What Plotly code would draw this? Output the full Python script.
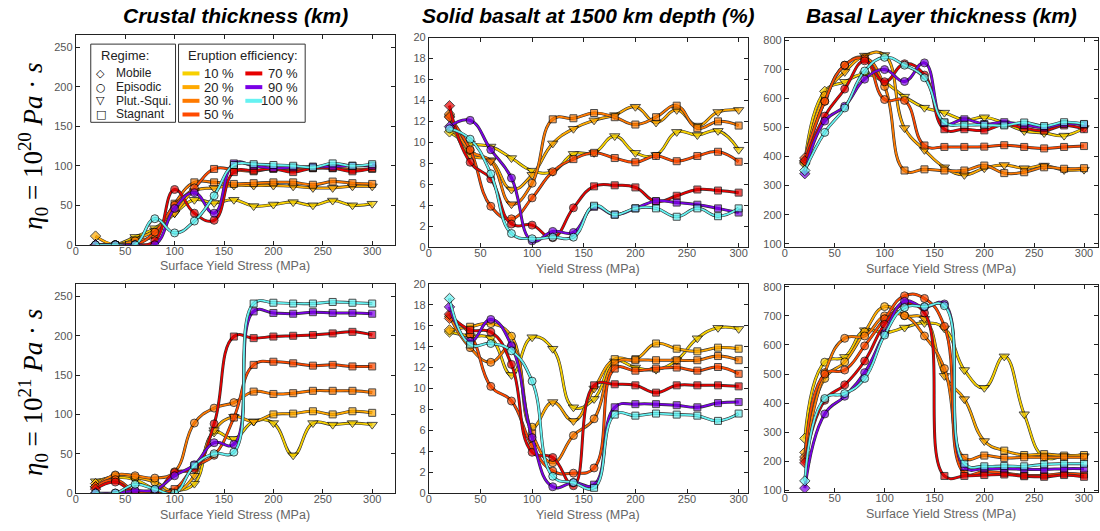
import plotly.graph_objects as go

W, H = 1100, 531

# ---------------- data ----------------
yield_stress = [20, 40, 60, 80, 100, 120, 140, 160, 180, 200, 220, 240, 260, 280, 300]
efficiency_labels = ["10 %", "20 %", "30 %", "50 %", "70 %", "90 %", "100 %"]
series_colors = ["#F7D000", "#FFAA00", "#FF7A00", "#FF4A00", "#E60000", "#7A00E6", "#66F2F2"]
regime_names = ["Mobile", "Episodic", "Plut.-Squi.", "Stagnant"]
x_ticks = [0, 50, 100, 150, 200, 250, 300]

# Crustal thickness (km), eta0 = 1e20
crust20_e10 = [0, 0, 10, 21, 40, 57, 53, 57, 49, 51, 54, 50, 56, 50, 52]
crust20_e20 = [11, 0, 7, 18, 40, 68, 72, 75, 75, 75, 74, 72, 72, 74, 74]
crust20_e30 = [0, 0, 5, 12, 52, 79, 79, 77, 78, 79, 79, 76, 80, 78, 77]
crust20_e50 = [0, 0, 0, 16, 50, 72, 96, 95, 93, 97, 96, 97, 97, 95, 96]
crust20_e70 = [0, 0, 0, 5, 70, 40, 31, 92, 94, 96, 92, 97, 97, 93, 97]
crust20_e90 = [0, 0, 0, 0, 46, 66, 40, 103, 100, 97, 98, 99, 99, 100, 100]
crust20_e100 = [0, 0, 0, 33, 15, 30, 62, 101, 102, 101, 100, 98, 103, 100, 102]
crust20_regimes = ["MEPPPPPPPPPPPPP", "MEPPPPPPPPPPPPP", "MEEESSSSSSSSSSS", "MEEEEESSSSSSSSS",
                   "MEEEEEESSSSSSSS", "MEEEEEESSSSSSSS", "EEEEEEESSSSSSSS"]

# Solid basalt at 1500 km depth (%), eta0 = 1e20
basalt20_e10 = [11.0, 9.9, 9.6, 8.5, 7.3, 7.2, 8.9, 9.0, 10.6, 9.0, 8.8, 11.0, 10.7, 11.1, 9.3]
basalt20_e20 = [12.5, 8.8, 8.3, 5.5, 6.9, 9.9, 11.3, 12.1, 12.6, 13.4, 11.9, 13.1, 11.6, 12.9, 13.1]
basalt20_e30 = [12.7, 9.2, 8.2, 4.1, 6.1, 12.2, 12.3, 12.8, 12.4, 11.7, 12.4, 13.5, 11.35, 12.0, 11.6]
basalt20_e50 = [12.4, 9.3, 3.9, 2.7, 4.7, 7.2, 8.4, 9.0, 8.5, 8.1, 8.7, 8.2, 8.7, 9.1, 8.15]
basalt20_e70 = [13.5, 8.1, 6.5, 2.2, 2.1, 0.9, 3.75, 5.8, 5.9, 5.7, 4.35, 4.9, 5.5, 5.4, 5.2]
basalt20_e90 = [11.5, 12.1, 9.3, 6.6, 0.6, 1.5, 1.4, 3.85, 3.1, 3.7, 4.4, 4.25, 4.05, 3.7, 3.3]
basalt20_e100 = [11.3, 10.3, 7.0, 1.3, 0.8, 0.95, 0.95, 3.95, 3.1, 3.7, 3.7, 2.9, 3.7, 2.95, 3.7]
basalt20_regimes = ["MPPPPPPPPPPPPPP", "MPPPPPPPPPPPPPP", "MEPPESSSSSSSSSS", "MEEEEESSSSSSSSS",
                    "MEEEEEESSSSSSSS", "MEEEEEESSSSSSSS", "EEEEEEESSSSSSSS"]

# Basal layer thickness (km), eta0 = 1e20
basal20_e10 = [380, 624, 657, 683, 655, 606, 568, 551, 526, 535, 515, 488, 481, 472, 498]
basal20_e20 = [375, 610, 691, 747, 749, 498, 423, 363, 337, 360, 371, 360, 369, 354, 355]
basal20_e30 = [385, 590, 714, 740, 641, 352, 356, 352, 352, 369, 343, 346, 363, 358, 360]
basal20_e50 = [395, 590, 714, 735, 596, 593, 438, 433, 433, 434, 439, 433, 428, 433, 436]
basal20_e70 = [385, 539, 632, 729, 657, 719, 680, 494, 494, 490, 510, 498, 489, 507, 494]
basal20_e90 = [341, 522, 573, 666, 699, 658, 722, 515, 528, 512, 518, 509, 500, 512, 510]
basal20_e100 = [352, 483, 567, 694, 741, 714, 671, 518, 509, 509, 507, 517, 505, 518, 512]
basal20_regimes = ["MMPPPPPPPPPPPPP", "MEPPPPPPPPPPPPP", "MEEEESSSSSSSSSS", "MEEEEESSSSSSSSS",
                   "MEEEEEESSSSSSSS", "MEEEEEESSSSSSSS", "MEEEEEESSSSSSSS"]

# Crustal thickness (km), eta0 = 1e21
crust21_e10 = [15, 20, 17, 5, 3, 12, 77, 69, 91, 89, 48, 89, 87, 89, 87]
crust21_e20 = [12, 22, 20, 14, 2, 22, 80, 97, 91, 100, 101, 104, 100, 104, 102]
crust21_e30 = [8, 23, 22, 19, 27, 89, 108, 115, 129, 126, 127, 130, 130, 130, 128]
crust21_e50 = [8, 17, 2, 0, 5, 33, 48, 96, 163, 167, 165, 162, 163, 161, 161]
crust21_e70 = [5, 14, 0, 0, 26, 31, 88, 199, 197, 199, 200, 201, 203, 205, 201]
crust21_e90 = [0, 0, 3, 4, 22, 36, 64, 62, 231, 229, 228, 230, 229, 229, 228]
crust21_e100 = [0, 0, 11, 5, 0, 35, 50, 52, 241, 242, 241, 241, 243, 242, 241]
crust21_regimes = ["PPPPPPPPPPPPPPP", "MEEEPPPPPSSSSSS", "MEEEEEEESSSSSSS", "MEEESEESSSSSSSS",
                   "MEEEEEESSSSSSSS", "MEEEEEEESSSSSSS", "EEEEESEESSSSSSS"]

# Solid basalt at 1500 km depth (%), eta0 = 1e21
basalt21_e10 = [15.4, 15.0, 14.8, 11.3, 14.9, 13.8, 8.2, 9.0, 12.6, 12.0, 11.8, 12.7, 14.8, 15.8, 15.7]
basalt21_e20 = [15.6, 15.9, 16.2, 15.0, 6.3, 8.7, 6.9, 10.0, 12.8, 12.8, 14.3, 13.8, 13.55, 13.9, 13.8]
basalt21_e30 = [16.9, 13.9, 12.5, 14.0, 5.7, 2.9, 5.5, 7.1, 12.4, 12.7, 12.7, 12.7, 12.7, 13.1, 12.7]
basalt21_e50 = [16.7, 15.2, 10.2, 8.8, 4.5, 2.1, 1.9, 2.4, 11.9, 11.7, 11.9, 12.0, 11.7, 12.05, 11.4]
basalt21_e70 = [17.1, 15.6, 15.4, 12.3, 3.9, 3.4, 0.7, 10.3, 10.4, 10.3, 9.6, 10.3, 10.3, 10.3, 10.2]
basalt21_e90 = [17.8, 14.5, 16.6, 14.1, 5.3, 0.6, 1.0, 0.8, 8.2, 8.5, 8.5, 8.4, 8.2, 8.6, 8.7]
basalt21_e100 = [18.6, 14.2, 14.3, 13.6, 10.7, 1.6, 1.0, 0.5, 7.5, 7.4, 7.6, 7.5, 7.4, 6.9, 7.6]
basalt21_regimes = ["MPPPPPPPPPPPPPP", "MSEEEPPPSSSSSSS", "MEEESEEESSSSSSS", "MSEEEEEESSSSSSS",
                    "MSEEEEESSSSSSSS", "MEEEEEESSSSSSSS", "MSEEEEESSSSSSSS"]

# Basal layer thickness (km), eta0 = 1e21
basal21_e10 = [279, 541, 559, 651, 642, 660, 676, 657, 514, 453, 561, 362, 215, 218, 218]
basal21_e20 = [231, 485, 542, 645, 732, 701, 690, 494, 414, 270, 237, 222, 225, 220, 222]
basal21_e30 = [215, 505, 623, 631, 700, 701, 631, 519, 212, 220, 212, 214, 214, 214, 214]
basal21_e50 = [205, 500, 514, 597, 690, 769, 760, 664, 160, 165, 160, 152, 152, 158, 155]
basal21_e70 = [195, 410, 463, 545, 671, 740, 710, 150, 150, 153, 155, 149, 147, 153, 147]
basal21_e90 = [108, 363, 424, 505, 640, 750, 730, 741, 181, 175, 175, 173, 172, 175, 175]
basal21_e100 = [133, 416, 433, 485, 634, 729, 732, 735, 192, 183, 184, 183, 190, 192, 192]
basal21_regimes = ["MEPPPPPPPPPPPPP", "MEEEEEPPPPSSSSS", "MEEEEEEESSSSSSS", "MEEEEEEESSSSSSS",
                   "MEEEEEESSSSSSSS", "MEEEEEEESSSSSSS", "MEEEEEEESSSSSSS"]

column_titles = ["Crustal thickness (km)", "Solid basalt at 1500 km depth (%)", "Basal Layer thickness (km)"]
row_labels = ["<i>η</i><sub>0</sub> = 10<sup>20</sup> <i>Pa</i> · <i>s</i>",
              "<i>η</i><sub>0</sub> = 10<sup>21</sup> <i>Pa</i> · <i>s</i>"]

# ---------------- layout helpers ----------------
def px(x):
    return x / W

def py(y):
    return 1 - y / H

symbol_map = {"M": "diamond", "E": "circle", "P": "triangle-down", "S": "square"}
size_map = {"M": 8, "E": 8, "P": 9, "S": 7}

panels = [
    dict(series=[crust20_e10, crust20_e20, crust20_e30, crust20_e50, crust20_e70, crust20_e90, crust20_e100],
         regs=crust20_regimes, xd=(73, 393), yd=(29.3, 244.3), xr=[0, 323], yr=[0, 266], dt=50,
         xt="Surface Yield Stress (MPa)"),
    dict(series=[basalt20_e10, basalt20_e20, basalt20_e30, basalt20_e50, basalt20_e70, basalt20_e90, basalt20_e100],
         regs=basalt20_regimes, xd=(427, 747), yd=(32.3, 246.7), xr=[0, 309], yr=[0, 20], dt=2,
         xt="Yield Stress (MPa)"),
    dict(series=[basal20_e10, basal20_e20, basal20_e30, basal20_e50, basal20_e70, basal20_e90, basal20_e100],
         regs=basal20_regimes, xd=(784, 1098), yd=(32.3, 246.7), xr=[0, 314], yr=[88.6, 809], dt=100,
         xt="Surface Yield Stress (MPa)"),
    dict(series=[crust21_e10, crust21_e20, crust21_e30, crust21_e50, crust21_e70, crust21_e90, crust21_e100],
         regs=crust21_regimes, xd=(73, 393), yd=(284.3, 498.3), xr=[0, 323], yr=[0, 266], dt=50,
         xt="Surface Yield Stress (MPa)"),
    dict(series=[basalt21_e10, basalt21_e20, basalt21_e30, basalt21_e50, basalt21_e70, basalt21_e90, basalt21_e100],
         regs=basalt21_regimes, xd=(427, 747), yd=(284.3, 498.3), xr=[0, 309], yr=[0, 20], dt=2,
         xt="Yield Stress (MPa)"),
    dict(series=[basal21_e10, basal21_e20, basal21_e30, basal21_e50, basal21_e70, basal21_e90, basal21_e100],
         regs=basal21_regimes, xd=(784, 1098), yd=(285, 497.3), xr=[0, 314], yr=[94.6, 807.7], dt=100,
         xt="Surface Yield Stress (MPa)"),
]

fig = go.Figure()
layout = dict(
    width=W, height=H, margin=dict(l=0, r=0, t=0, b=0),
    paper_bgcolor="white", plot_bgcolor="white", showlegend=False,
    font=dict(family="Liberation Sans, Arial, sans-serif", color="#555555"),
)
annotations = []
shapes = []

for i, p in enumerate(panels):
    n = i + 1
    xa = "x" if n == 1 else f"x{n}"
    ya = "y" if n == 1 else f"y{n}"
    for vals, reg, col in zip(p["series"], p["regs"], series_colors):
        fig.add_trace(go.Scatter(
            x=yield_stress, y=vals, xaxis=xa, yaxis=ya, mode="lines",
            line=dict(color="#333333", width=3.0, shape="spline", smoothing=1.3),
            hoverinfo="skip"))
        fig.add_trace(go.Scatter(
            x=yield_stress, y=vals, xaxis=xa, yaxis=ya, mode="lines+markers",
            line=dict(color=col, width=1.8, shape="spline", smoothing=1.3),
            marker=dict(symbol=[symbol_map[c] for c in reg], size=[size_map[c] for c in reg],
                        color=col, line=dict(color="black", width=1))))
    axcommon = dict(showline=True, mirror="ticks", linecolor="#222222", linewidth=1,
                    ticks="inside", ticklen=4, tickcolor="#222222", showgrid=False, zeroline=False,
                    tickfont=dict(size=11, color="#555555"))
    layout["xaxis" if n == 1 else f"xaxis{n}"] = dict(
        domain=[px(p["xd"][0]), px(p["xd"][1])], range=p["xr"], anchor=ya,
        tickvals=x_ticks, ticklabelstandoff=-4, **axcommon)
    layout["yaxis" if n == 1 else f"yaxis{n}"] = dict(
        domain=[py(p["yd"][1]), py(p["yd"][0])], range=p["yr"], anchor=xa,
        dtick=p["dt"], tick0=0, **axcommon)
    # x axis title
    annotations.append(dict(text=p["xt"], x=px((p["xd"][0] + p["xd"][1]) / 2), y=py(p["yd"][1] + 22),
                            xref="paper", yref="paper", showarrow=False, xanchor="center", yanchor="middle",
                            font=dict(size=12.5, color="#666666")))

# column titles
for j, t in enumerate(column_titles):
    xd = panels[j]["xd"]
    annotations.append(dict(text=f"<b><i>{t}</i></b>", x=px((xd[0] + xd[1]) / 2), y=py(10),
                            xref="paper", yref="paper", showarrow=False, xanchor="center", yanchor="middle",
                            font=dict(size=21, color="black", family="Liberation Sans, Arial, sans-serif")))
# row labels
for k, t in enumerate(row_labels):
    yc = 143 if k == 0 else 395
    annotations.append(dict(text=t, x=px(30), y=py(yc), xref="paper", yref="paper", showarrow=False,
                            textangle=-90, xanchor="center", yanchor="middle",
                            font=dict(size=27, color="black", family="Liberation Serif, DejaVu Serif, serif")))

# legend boxes (inside top-left panel)
shapes.append(dict(type="rect", xref="paper", yref="paper", x0=px(88), x1=px(173), y0=py(119), y1=py(39),
                   line=dict(color="#333333", width=1), fillcolor="white"))
shapes.append(dict(type="rect", xref="paper", yref="paper", x0=px(176), x1=px(303), y0=py(119), y1=py(39),
                   line=dict(color="#333333", width=1), fillcolor="white"))
annotations.append(dict(text="Regime:", x=px(96), y=py(51), xref="paper", yref="paper", showarrow=False,
                        xanchor="left", yanchor="middle", font=dict(size=13, color="#222222")))
annotations.append(dict(text="Eruption efficiency:", x=px(183), y=py(51), xref="paper", yref="paper",
                        showarrow=False, xanchor="left", yanchor="middle", font=dict(size=13, color="#222222")))
regime_glyphs = ["◇", "○", "▽", "□"]
rows_y = [69, 83, 97, 111]
for g, name, yy in zip(regime_glyphs, regime_names, rows_y):
    annotations.append(dict(text=g, x=px(98), y=py(yy), xref="paper", yref="paper", showarrow=False,
                            xanchor="center", yanchor="middle",
                            font=dict(size=11, color="black", family="DejaVu Sans, sans-serif")))
    annotations.append(dict(text=name, x=px(111), y=py(yy), xref="paper", yref="paper", showarrow=False,
                            xanchor="left", yanchor="middle", font=dict(size=12, color="#222222")))
for idx, (lab, col) in enumerate(zip(efficiency_labels, series_colors)):
    if idx < 4:
        yy = rows_y[idx]
        x0, x1 = 180, 197
        annotations.append(dict(text=lab, x=px(200), y=py(yy), xref="paper", yref="paper", showarrow=False,
                                xanchor="left", yanchor="middle", font=dict(size=13, color="#222222")))
    else:
        yy = rows_y[idx - 4]
        x0, x1 = 243, 260
        annotations.append(dict(text=lab, x=px(298), y=py(yy), xref="paper", yref="paper", showarrow=False,
                                xanchor="right", yanchor="middle", font=dict(size=13, color="#222222")))
    shapes.append(dict(type="line", xref="paper", yref="paper", x0=px(x0), x1=px(x1), y0=py(yy), y1=py(yy),
                       line=dict(color=col, width=4)))

layout["annotations"] = annotations
layout["shapes"] = shapes
fig.update_layout(**layout)
fig.write_html("out.html", config={"displayModeBar": False},
               post_script="document.body.style.margin='0px';")
